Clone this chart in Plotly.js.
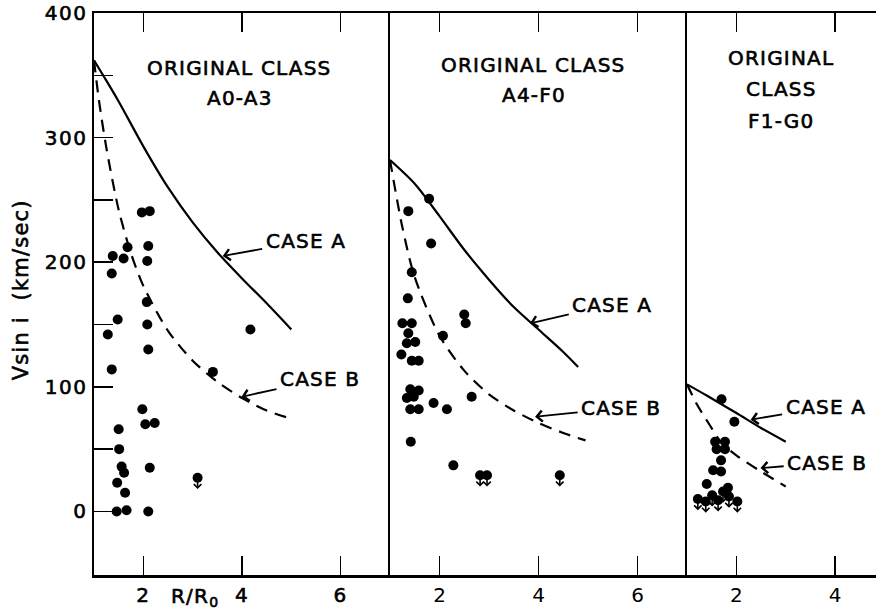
<!DOCTYPE html>
<html>
<head>
<meta charset="utf-8">
<script src="https://cdn.plot.ly/plotly-3.0.1.min.js"></script>
<style>
html, body { margin: 0; padding: 0; background: #fff; }
#chart { width: 876px; height: 614px; }
.annotation-text { letter-spacing: 1.2px; stroke: #000; stroke-width: 0.6px; }
.xtick text, .ytick text { letter-spacing: 1.5px; stroke: #000; stroke-width: 0.6px; }
</style>
</head>
<body>
<div id="chart"></div>
<script>
// ---- Panel 1: original class A0-A3 ----
const p1X = [1.97,2.13,1.68,2.10,1.38,1.60,2.08,1.36,2.07,1.48,2.08,1.28,2.10,4.17,1.36,3.41,1.98,2.04,2.23,1.50,1.51,1.56,1.61,2.13,1.47,1.63,1.46,1.66,2.10];
const p1Y = [240,241,212,213,205,203,201,191,168,154,150,142,130,146,114,112,82,70,71,66,50,36,31,35,23,15,0,1,0];
const p1LimX = [3.10];
const p1LimY = [27];
const c1AX = [1,1.2,1.5,2,2.5,3,3.5,4,4.5,5];
const c1AY = [362,349,329,293,260,232,208,187,167,146];
const c1BX = [1,1.1,1.25,1.5,1.75,2,2.5,3,3.5,4,4.5,4.95];
const c1BY = [362,330,292,242,207,181,145,121,104,91,81,75];

// ---- Panel 2: original class A4-F0 ----
const p2X = [1.79,1.37,1.83,1.44,1.36,2.50,2.53,1.25,1.44,1.37,1.34,1.51,2.07,1.23,1.44,1.58,1.41,1.58,1.34,1.48,1.41,1.58,1.88,2.15,2.65,1.42,2.28];
const p2Y = [251,241,215,192,171,158,151,151,151,143,135,136,141,126,121,121,98,97,91,92,82,82,87,82,92,56,37];
const p2LimX = [2.82,2.96,4.43];
const p2LimY = [29,29,29];
const c2AX = [1,1.5,2,2.5,3,3.5,4,4.5,4.8];
const c2AY = [282,263,237,210,186,164,146,128,116];
const c2BX = [1,1.25,1.5,2,2.5,3,3.5,4,4.5,4.95];
const c2BY = [282,228,188,141,113,94,81,71,63,57];

// ---- Panel 3: original class F1-G0 ----
const p3X = [1.70,1.96,1.57,1.77,1.60,1.77,1.69,1.53,1.69,1.40,1.83];
const p3Y = [90,72,56,56,50,50,41,33,32,22,19];
const p3LimX = [1.22,1.38,1.51,1.63,1.73,1.85,2.02];
const p3LimY = [10,8,13,9,16,12,8];
const c3AX = [1,1.4,2,2.5,3];
const c3AY = [102,93,79,67,56];
const c3BX = [1,1.2,1.45,1.7,2,2.5,3];
const c3BY = [102,86,70,55,45,32,20];

// ---- axis ticks / labels ----
const yTickVals = [0,100,200,300,400];
const yTickText = ['0','100','200','300','400'];
const yMinorVals = [50,150,250,350];
const yRightVals = [0,50,100,150,200,250,300,350];
const xTicks12 = [2,4,6];
const xTicks3 = [2,4];
const panelTitles = [
  {x: 3.95, lines: ['ORIGINAL CLASS','A0-A3'], ys: [356,332], xa: 'x', ya: 'y'},
  {x: 3.90, lines: ['ORIGINAL CLASS','A4-F0'], ys: [358,334], xa: 'x2', ya: 'y2'},
  {x: 2.91, lines: ['ORIGINAL','CLASS','F1-G0'], ys: [364,339,313], xa: 'x3', ya: 'y3'}
];
const caseLabels = [
  {t:'CASE A', tx:5.29, ty:217, ax:3.61, ay:205, xa:'x', ya:'y'},
  {t:'CASE B', tx:5.58, ty:106, ax:3.99, ay:92, xa:'x', ya:'y'},
  {t:'CASE A', tx:5.49, ty:166, ax:3.83, ay:151, xa:'x2', ya:'y2'},
  {t:'CASE B', tx:5.67, ty:83, ax:3.93, ay:76, xa:'x2', ya:'y2'},
  {t:'CASE A', tx:3.81, ty:84, ax:2.29, ay:73.6, xa:'x3', ya:'y3'},
  {t:'CASE B', tx:3.84, ty:39, ax:2.49, ay:34.8, xa:'x3', ya:'y3'}
];

const FONT = 'DejaVu Sans, Arial, sans-serif';
const black = '#000';
const TF = (size) => ({family: FONT, size: size, color: black});

function dots(x, y, xa, ya) {
  return {x, y, xaxis: xa, yaxis: ya, type: 'scatter', mode: 'markers',
    marker: {color: black, size: 10, line: {width: 0}}, hoverinfo: 'skip', showlegend: false, cliponaxis: false};
}
function curve(x, y, xa, ya, dash) {
  return {x, y, xaxis: xa, yaxis: ya, type: 'scatter', mode: 'lines',
    line: {color: black, width: 2.2, dash: dash, shape: 'spline', smoothing: 0.8}, hoverinfo: 'skip', showlegend: false};
}

const traces = [
  curve(c1AX, c1AY, 'x', 'y', 'solid'),
  curve(c1BX, c1BY, 'x', 'y', '12px,8px'),
  curve(c2AX, c2AY, 'x2', 'y2', 'solid'),
  curve(c2BX, c2BY, 'x2', 'y2', '12px,8px'),
  curve(c3AX, c3AY, 'x3', 'y3', 'solid'),
  curve(c3BX, c3BY, 'x3', 'y3', '12px,8px'),
  dots(p1X, p1Y, 'x', 'y'),
  dots(p1LimX, p1LimY, 'x', 'y'),
  dots(p2X, p2Y, 'x2', 'y2'),
  dots(p2LimX, p2LimY, 'x2', 'y2'),
  dots(p3X, p3Y, 'x3', 'y3'),
  dots(p3LimX, p3LimY, 'x3', 'y3')
];

const annotations = [];
panelTitles.forEach(p => {
  p.lines.forEach((line, i) => {
    annotations.push({x: p.x, y: p.ys[i], xref: p.xa, yref: p.ya, text: line, showarrow: false,
      font: TF(20), xanchor: 'center', yanchor: 'middle'});
  });
});
caseLabels.forEach(c => {
  annotations.push({x: c.ax, y: c.ay, xref: c.xa, yref: c.ya, ax: c.tx, ay: c.ty, axref: c.xa, ayref: c.ya,
    text: c.t, showarrow: true, arrowhead: 4, arrowsize: 1.2, arrowwidth: 1.8, arrowcolor: black,
    standoff: 0, startstandoff: 2, font: TF(20), xanchor: 'center', yanchor: 'middle'});
});
function limits(xs, ys, xa, ya) {
  xs.forEach((x, i) => {
    annotations.push({x: x, y: ys[i] - 9, xref: xa, yref: ya, ax: x, ay: ys[i], axref: xa, ayref: ya,
      text: '', showarrow: true, arrowhead: 4, arrowsize: 0.9, arrowwidth: 1.6, arrowcolor: black, standoff: 0});
  });
}
limits(p1LimX, p1LimY, 'x', 'y');
limits(p2LimX, p2LimY, 'x2', 'y2');
limits(p3LimX, p3LimY, 'x3', 'y3');

annotations.push({xref: 'paper', yref: 'paper', x: -0.093, y: 0.507, text: 'Vsin i\u00a0 (km/sec)', textangle: -90,
  showarrow: false, font: TF(21), xanchor: 'center', yanchor: 'middle'});
annotations.push({xref: 'x', yref: 'paper', x: 3.05, y: -0.04, text: 'R/R<sub>0</sub>', showarrow: false,
  font: TF(20), xanchor: 'center', yanchor: 'middle'});

const d1 = 296/782, d2 = 593/782;
const xBase = {showgrid: false, zeroline: false, showline: true, linecolor: black, linewidth: 2.5, mirror: 'ticks',
  ticks: 'inside', ticklen: 19, tickwidth: 1.6, tickcolor: black, tickfont: TF(20), fixedrange: true};
const yBase = {range: [-51, 400], showgrid: false, zeroline: false, showline: true, linecolor: black, linewidth: 2.5, fixedrange: true};

const layout = {
  width: 876, height: 614,
  margin: {l: 94, r: 0, t: 13, b: 39},
  paper_bgcolor: '#fff', plot_bgcolor: '#fff',
  showlegend: false,
  xaxis: Object.assign({}, xBase, {domain: [0, d1], range: [1, 7], tickvals: xTicks12, ticktext: ['2','4','6'], anchor: 'y'}),
  xaxis2: Object.assign({}, xBase, {domain: [d1, d2], range: [1, 7], tickvals: xTicks12, ticktext: ['2','4','6'], anchor: 'y2'}),
  xaxis3: Object.assign({}, xBase, {domain: [d2, 1], range: [1, 4.83], tickvals: xTicks3, ticktext: ['2','4'], anchor: 'y3'}),
  yaxis: Object.assign({}, yBase, {anchor: 'x', ticks: 'inside', ticklen: 19, tickwidth: 1.6, tickcolor: black,
    tickvals: yTickVals, ticktext: yTickText, tickfont: TF(20),
    minor: {ticks: 'inside', ticklen: 19, tickwidth: 1.6, tickcolor: black, tickvals: yMinorVals, showgrid: false}}),
  yaxis2: Object.assign({}, yBase, {anchor: 'x2', matches: 'y', ticks: '', showticklabels: false}),
  yaxis3: Object.assign({}, yBase, {anchor: 'x3', matches: 'y', ticks: '', showticklabels: false}),
  yaxis4: {overlaying: 'y3', side: 'right', anchor: 'x3', range: [-51, 400], showgrid: false, zeroline: false, showline: false,
    ticks: 'inside', ticklen: 11, tickwidth: 1.6, tickcolor: black, tickvals: yRightVals, showticklabels: false, fixedrange: true},
  annotations: annotations
};

Plotly.newPlot('chart', traces, layout, {staticPlot: true, displayModeBar: false});
</script>
</body>
</html>
